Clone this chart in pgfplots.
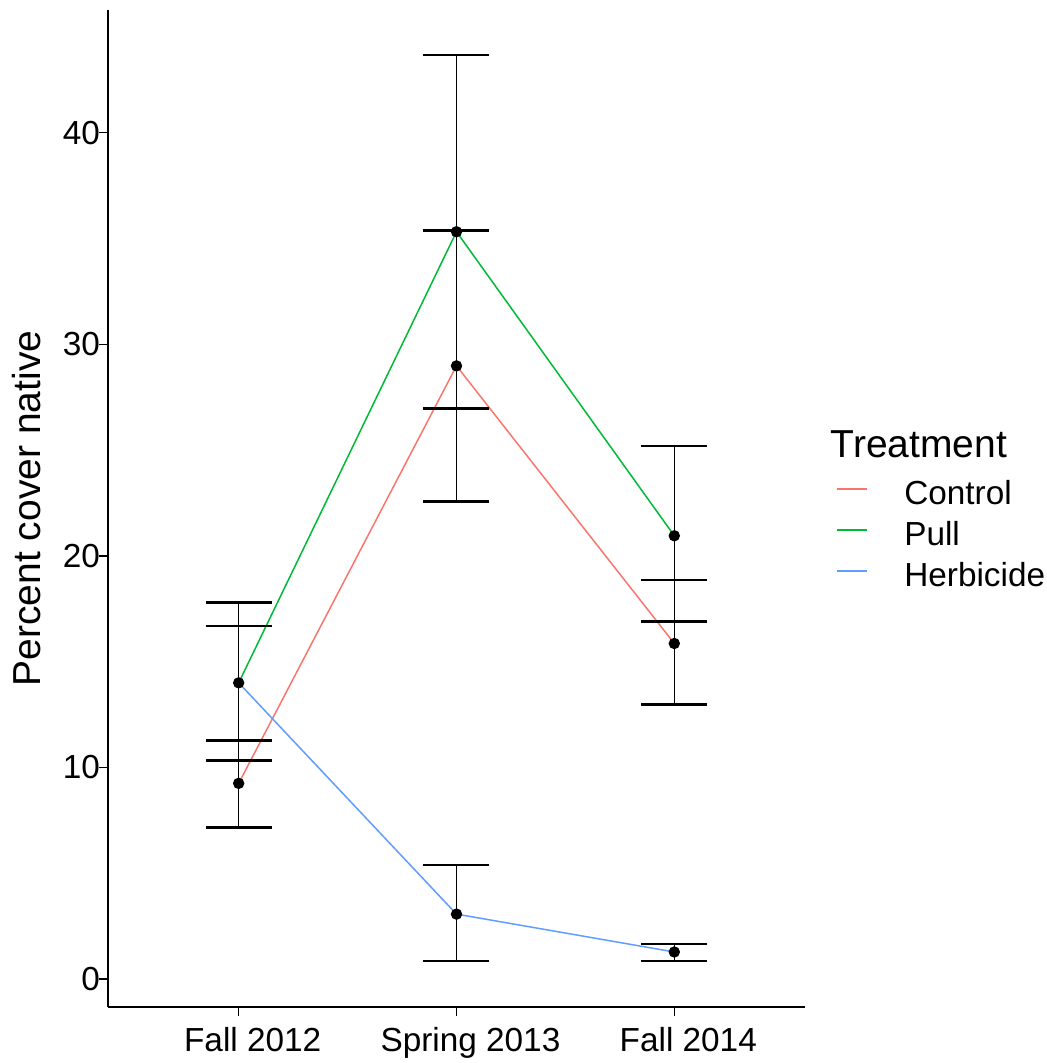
\documentclass[border=0pt]{standalone}
\usepackage{fontspec}
\setmainfont{Liberation Sans}
\usepackage{pgfplots}
\pgfplotsset{compat=1.18}

\definecolor{ctrl}{HTML}{F8766D}
\definecolor{pull}{HTML}{00BA38}
\definecolor{herb}{HTML}{619CFF}

\begin{document}
\begin{tikzpicture}
\begin{axis}[
    name=ax,
    scale only axis,
    width=209.1pt, height=299.1pt,
    xmin=0.4, xmax=3.6,
    ymin=-1.32, ymax=45.8,
    axis lines=left,
    axis line style={-, line width=0.6pt},
    tick align=outside,
    major tick length=2.7pt,
    tick style={black, line width=0.45pt},
    xtick={1,2,3},
    xticklabels={Fall 2012, Spring 2013, Fall 2014},
    ytick={0,10,20,30,40},
    /pgf/number format/assume math mode=true,
    ticklabel style={font=\fontsize{10}{12}\selectfont},
    xticklabel style={xshift=4.2pt},
    yticklabel shift=-3.8pt,
    ylabel={Percent cover native},
    ylabel shift=-0.2pt,
    ylabel style={font=\fontsize{11.7}{14}\selectfont},
    legend style={at={(1.044,0.5286)}, anchor=north west, draw=none, fill=none,
        inner sep=0pt, font=\fontsize{10}{12}\selectfont, row sep=3pt,
        nodes={inner sep=0pt, text height=7.2pt, text depth=2.1pt, anchor=base west},
        /tikz/every odd column/.append style={column sep=10.8pt}},
    legend image code/.code={\draw[#1, line width=0.6pt] (0pt,4.6pt) -- (9pt,4.6pt);},
    legend cell align=left,
    clip=false,
]
% mean lines
\addplot[ctrl, line width=0.45pt] coordinates {(1,9.25) (2,28.98) (3,15.86)};
\addlegendentry{Control}
\addplot[pull, line width=0.45pt] coordinates {(1,14.0) (2,35.32) (3,20.95)};
\addlegendentry{Pull}
\addplot[herb, line width=0.45pt] coordinates {(1,14.0) (2,3.07) (3,1.28)};
\addlegendentry{Herbicide}

% error bars (centre, half width)
\addplot[forget plot, draw=none, mark=none,
    error bars/.cd, y dir=both, y explicit,
    error bar style={black, line width=0.35pt},
    error mark=|, error mark options={black, line width=0.75pt, mark size=9.9pt}]
  coordinates {(1,9.23) +- (0,2.06) (2,28.98) +- (0,6.4) (3,15.92) +- (0,2.94)};
\addplot[forget plot, draw=none, mark=none,
    error bars/.cd, y dir=both, y explicit,
    error bar style={black, line width=0.35pt},
    error mark=|, error mark options={black, line width=0.75pt, mark size=9.9pt}]
  coordinates {(1,14.07) +- (0,3.73) (2,35.32) +- (0,8.35) (3,21.04) +- (0,4.15)};
\addplot[forget plot, draw=none, mark=none,
    error bars/.cd, y dir=both, y explicit,
    error bar style={black, line width=0.35pt},
    error mark=|, error mark options={black, line width=0.75pt, mark size=9.9pt}]
  coordinates {(1,13.98) +- (0,2.70) (2,3.12) +- (0,2.27) (3,1.25) +- (0,0.40)};

% points
\addplot[forget plot, only marks, mark=*, mark size=1.5pt, black]
  coordinates {(1,9.25) (2,28.98) (3,15.86) (1,14.0) (2,35.32) (3,20.95) (2,3.07) (3,1.28)};

\node[anchor=base west, font=\fontsize{11.7}{14}\selectfont, inner sep=0pt]
  at (rel axis cs:1.036,0.551) {Treatment};
\end{axis}
\pgfresetboundingbox
\path ([xshift=-32.4pt,yshift=-16.8pt]ax.south west) rectangle ([xshift=72.6pt,yshift=3pt]ax.north east);
\end{tikzpicture}
\end{document}
